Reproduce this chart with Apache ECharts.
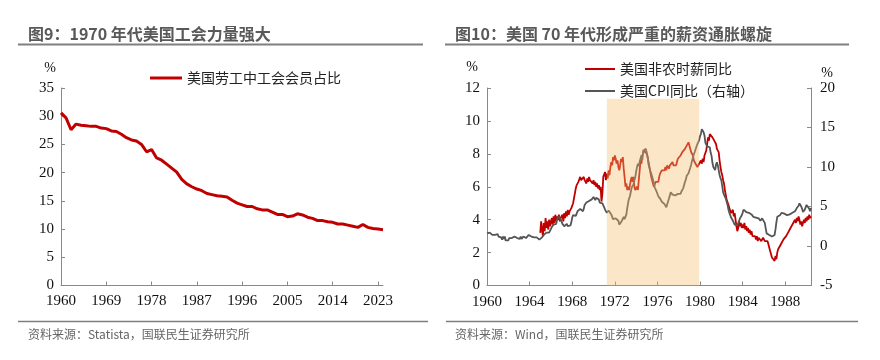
<!DOCTYPE html>
<html><head><meta charset="utf-8">
<script src="https://cdn.jsdelivr.net/npm/echarts@6.0.0/dist/echarts.min.js"></script>
<style>html,body{margin:0;padding:0;background:#fff}#c{width:880px;height:360px}</style>
</head><body><div id="c"></div>
<script>
// ---- Left chart: union membership share ----
const unionYears = [1960,1961,1962,1963,1964,1965,1966,1967,1968,1969,1970,1971,1972,1973,1974,1975,1976,1977,1978,1979,
1980,1981,1982,1983,1984,1985,1986,1987,1988,1989,1990,1991,1992,1993,1994,1995,1996,1997,1998,1999,
2000,2001,2002,2003,2004,2005,2006,2007,2008,2009,2010,2011,2012,2013,2014,2015,2016,2017,2018,2019,
2020,2021,2022,2023,2024];
const unionShare = [30.6,29.7,27.6,28.6,28.4,28.3,28.2,28.2,27.9,27.8,27.4,27.3,26.8,26.2,25.8,25.6,25.0,23.7,24.1,22.6,
22.2,21.5,20.8,20.1,18.8,18.0,17.5,17.1,16.8,16.3,16.1,15.9,15.8,15.7,15.1,14.6,14.3,14.0,14.0,13.6,
13.4,13.4,13.0,12.6,12.6,12.2,12.3,12.7,12.5,12.1,11.9,11.5,11.5,11.3,11.2,10.9,10.9,10.7,10.5,10.3,
10.8,10.3,10.1,10.0,9.9];
const unionYTicks = {min:0, max:35, interval:5};

// ---- Right chart: monthly YoY, Jan 1960 - Jun 1990 ----
const monthStart = 1960, monthEndYear = 1990, monthEndMonth = 6;
// US CPI YoY (%), Jan 1960 onward
const cpiYoY = [
1.6,1.5,1.5,1.7,1.6,1.7,1.4,1.4,1.2,1.4,1.3,1.4,
1.5,1.2,1.4,1.0,1.1,0.8,1.2,0.9,1.2,0.7,0.8,0.6,
0.7,1.0,0.9,1.2,1.0,1.1,0.9,1.2,1.1,1.2,1.0,1.1,
1.1,0.9,1.2,0.9,1.0,1.2,1.1,1.3,1.0,1.2,1.1,1.4,
1.5,1.3,1.2,1.1,1.2,1.1,1.2,0.9,1.1,0.9,1.0,0.8,
0.9,0.9,1.1,1.3,1.4,1.6,1.5,1.7,1.6,1.8,1.7,1.9,
1.9,2.4,2.3,2.7,2.6,2.5,2.8,3.4,3.3,3.7,3.5,3.4,
3.4,2.8,2.7,2.5,2.7,2.6,2.8,2.5,2.7,2.4,2.6,3.0,
3.6,3.9,3.8,3.9,3.8,4.1,4.4,4.3,4.4,4.7,4.6,4.7,
4.4,4.7,5.2,5.4,5.5,5.5,5.4,5.7,5.7,5.8,5.9,6.1,
6.2,6.1,5.8,6.1,6.0,6.0,5.9,5.5,5.7,5.6,5.4,5.2,
4.9,4.6,4.4,4.2,4.3,4.5,4.3,4.4,4.0,3.8,3.4,3.3,
3.3,3.5,3.4,3.5,3.2,2.7,2.9,2.9,3.2,3.4,3.7,3.4,
3.6,4.0,4.8,5.5,6.0,6.3,6.5,7.4,7.4,7.8,8.3,8.7,
9.4,10.0,10.4,10.1,10.7,10.9,11.5,10.9,12.1,12.1,12.2,12.3,
11.8,11.2,10.3,10.2,9.5,9.2,8.8,8.4,7.9,7.4,7.2,6.9,
6.7,6.3,6.1,6.0,5.8,5.6,5.4,5.6,5.3,5.1,4.9,4.8,
5.1,6.0,6.4,6.8,6.6,6.5,6.4,6.3,6.4,6.2,6.5,6.6,
6.8,6.4,6.6,6.9,7.0,7.3,7.7,8.1,8.4,8.9,9.1,9.2,
9.3,9.9,10.3,10.8,11.2,11.6,11.9,12.1,12.6,12.9,13.1,13.4,
13.9,14.2,14.8,14.7,14.4,14.0,13.1,12.9,12.6,12.8,12.6,12.5,
11.8,11.4,10.5,10.0,9.8,9.6,10.3,10.6,10.2,9.6,9.0,8.6,
8.3,7.6,6.8,6.5,6.4,6.0,5.8,5.2,4.6,4.2,3.9,3.6,
3.4,3.2,3.0,2.7,2.6,2.5,2.6,2.8,3.2,3.5,3.7,3.9,
4.2,4.6,4.8,4.6,4.3,4.2,4.3,4.2,4.3,4.1,4.0,3.9,
3.7,3.5,3.7,3.6,3.8,3.7,3.5,3.3,3.2,3.3,3.5,3.6,
3.4,2.9,2.2,1.6,1.5,1.6,1.4,1.5,1.6,1.2,1.1,1.0,
1.4,2.1,3.0,3.7,3.9,3.8,3.9,4.1,4.2,4.3,4.2,4.1,
4.0,3.9,3.9,4.0,3.9,4.0,4.1,4.0,4.2,4.2,4.2,4.4,
4.6,4.8,5.0,5.1,5.4,5.2,5.0,4.7,4.3,4.5,4.6,4.6,
5.2,5.3,5.2,4.7,4.4,4.8];
// US nonfarm average hourly earnings YoY (%), starts Jan 1965
const wageStart = '1965-01';
const wageYoY = [
3.2,3.9,3.4,3.0,3.8,3.3,4.1,3.5,3.9,3.4,4.0,3.6,
3.5,4.1,3.7,4.2,3.8,4.3,3.9,4.2,4.0,4.3,3.9,4.1,
4.0,4.3,3.9,4.4,4.1,4.5,4.2,4.6,4.3,4.5,4.4,4.7,
4.8,5.0,5.3,5.6,5.9,6.1,6.0,6.3,6.2,6.6,6.4,6.5,
6.3,6.6,6.4,6.5,6.2,6.5,6.3,6.6,6.4,6.3,6.5,6.2,
6.4,6.1,6.3,6.0,6.2,5.9,6.1,5.8,6.0,5.1,5.6,6.6,
6.5,6.9,6.4,6.8,6.5,7.0,6.7,7.2,7.5,7.3,7.8,7.6,
7.9,7.7,7.4,7.6,7.2,7.0,7.3,7.7,7.5,7.8,7.1,6.6,
6.0,6.2,5.8,6.0,5.8,6.1,6.4,6.6,6.3,6.6,6.0,5.8,
5.9,6.0,5.8,6.4,7.0,7.6,7.4,7.9,8.0,8.2,8.1,8.2,
8.0,7.8,7.5,7.2,6.9,6.6,6.4,6.2,6.0,6.1,6.3,6.2,
6.4,6.3,6.6,6.8,6.7,7.0,6.9,7.1,7.0,7.2,7.0,7.3,
7.2,7.1,7.3,7.4,7.2,7.5,7.3,7.4,7.2,7.3,7.5,7.7,
7.8,7.6,7.9,7.8,8.1,8.0,8.1,8.3,8.2,8.5,8.6,8.7,
8.5,8.3,8.1,8.2,7.9,7.6,7.7,7.4,7.5,7.2,7.3,7.4,
7.3,7.6,7.4,7.7,7.5,7.9,7.8,8.2,8.6,9.0,8.8,9.2,
9.1,9.3,9.0,8.9,8.8,8.9,8.6,8.3,8.4,8.1,7.6,7.2,
6.9,6.7,6.4,6.2,5.8,5.5,5.2,5.3,4.9,4.7,4.8,4.4,
4.3,4.6,4.2,4.4,4.0,3.6,3.3,3.5,3.9,3.6,3.8,3.5,
3.7,3.5,3.8,3.4,3.6,3.3,3.5,3.2,3.4,3.1,3.3,3.0,
3.1,2.9,3.0,2.8,3.0,2.7,2.9,2.8,2.9,2.7,2.8,2.9,
2.8,2.7,2.8,2.6,2.7,2.5,2.3,2.1,1.9,1.7,1.6,1.7,
1.5,1.8,1.6,2.0,2.2,2.1,2.4,2.3,2.6,2.5,2.8,2.7,
2.8,3.0,2.9,3.2,3.1,3.4,3.3,3.6,3.5,3.8,3.7,4.0,
3.8,4.1,3.9,4.2,4.0,3.7,3.9,3.6,3.8,4.0,3.8,4.1,
3.9,4.2,4.0,4.3,4.1,4.2];
const shadeFrom = '1971-04', shadeTo = '1979-12', shadeTop = 11.35;
const wageAxis = {min:0, max:12, interval:2};
const cpiAxis = {min:-5, max:20, interval:5};

const names = {
  union: '美国劳工中工会会员占比',
  wage: '美国非农时薪同比',
  cpi: '美国CPI同比（右轴）'
};

// build month categories
const months = [];
for (let y = monthStart; y <= monthEndYear; y++) {
  for (let m = 1; m <= 12; m++) {
    if (y === monthEndYear && m > monthEndMonth) break;
    months.push(y + '-' + (m < 10 ? '0' + m : m));
  }
}
const wageOffset = months.indexOf(wageStart);
const wageFull = months.map((_, i) => (i >= wageOffset && i - wageOffset < wageYoY.length) ? wageYoY[i - wageOffset] : null);

const yearTick = (idx, val) => val.slice(5) === '01' && (+val.slice(0, 4)) % 4 === 0;

const AX = '#888';
const serif = 'Liberation Serif, Times New Roman, serif';
const cjk = 'Noto Sans CJK SC';
const tickLbl = {color: '#111', fontFamily: serif, fontSize: 15};

const chart = echarts.init(document.getElementById('c'), null, {renderer: 'canvas'});
chart.setOption({
  animation: false,
  backgroundColor: '#fff',
  textStyle: {fontFamily: serif},
  grid: [
    {left: 61, top: 88, width: 322, height: 197.5},
    {left: 487, top: 88, width: 324, height: 197.5}
  ],
  xAxis: [
    {gridIndex: 0, type: 'category', data: unionYears.map(String), boundaryGap: false,
     axisLine: {lineStyle: {color: AX, width: 1}},
     axisTick: {inside: true, interval: 8, length: 4, lineStyle: {color: AX}},
     axisLabel: Object.assign({interval: 8, margin: 8}, tickLbl),
     splitLine: {show: false}},
    {gridIndex: 1, type: 'category', data: months, boundaryGap: false,
     axisLine: {lineStyle: {color: AX, width: 1}},
     axisTick: {inside: true, interval: yearTick, length: 4, lineStyle: {color: AX}},
     axisLabel: Object.assign({interval: yearTick, margin: 9, formatter: v => v.slice(0, 4)}, tickLbl),
     splitLine: {show: false}}
  ],
  yAxis: [
    Object.assign({gridIndex: 0, type: 'value',
     axisLine: {show: true, lineStyle: {color: AX}},
     axisTick: {show: true, inside: true, length: 4, lineStyle: {color: AX}},
     axisLabel: Object.assign({margin: 7}, tickLbl),
     splitLine: {show: false}}, unionYTicks),
    Object.assign({gridIndex: 1, type: 'value', position: 'left',
     axisLine: {show: true, lineStyle: {color: AX}},
     axisTick: {show: true, inside: true, length: 4, lineStyle: {color: AX}},
     axisLabel: Object.assign({margin: 7}, tickLbl),
     splitLine: {show: false}}, wageAxis),
    Object.assign({gridIndex: 1, type: 'value', position: 'right',
     axisLine: {show: true, lineStyle: {color: AX}},
     axisTick: {show: true, inside: true, length: 4, lineStyle: {color: AX}},
     axisLabel: Object.assign({margin: 9}, tickLbl),
     splitLine: {show: false}}, cpiAxis)
  ],
  legend: [
    {data: [names.union], left: 145, top: 66, icon: 'rect', itemWidth: 32, itemHeight: 3,
     textStyle: {fontFamily: cjk, fontSize: 14, color: '#222'}},
    {data: [names.wage, names.cpi], orient: 'vertical', left: 580, top: 57, icon: 'rect',
     itemWidth: 30, itemHeight: 2, itemGap: 8,
     textStyle: {fontFamily: cjk, fontSize: 14, color: '#222'}}
  ],
  series: [
    {name: names.union, type: 'line', xAxisIndex: 0, yAxisIndex: 0, data: unionShare,
     symbol: 'none', color: '#C00000', lineStyle: {width: 3, color: '#C00000'}, z: 2},
    {name: names.wage, type: 'line', xAxisIndex: 1, yAxisIndex: 1, data: wageFull,
     symbol: 'none', color: '#C00000', lineStyle: {width: 1.8, color: '#C00000'}, z: 2},
    {name: names.cpi, type: 'line', xAxisIndex: 1, yAxisIndex: 2, data: cpiYoY,
     symbol: 'none', color: '#555555', lineStyle: {width: 1.8, color: '#555555'}, z: 3},
    {type: 'line', xAxisIndex: 1, yAxisIndex: 1, data: [], z: 10, silent: true,
     markArea: {silent: true, z: 10, itemStyle: {color: 'rgba(247,190,110,0.38)'},
       data: [[{xAxis: shadeFrom, yAxis: 0}, {xAxis: shadeTo, yAxis: shadeTop}]]}}
  ],
  graphic: [
    {type: 'text', left: 28, top: 26, style: {text: '图9：1970 年代美国工会力量强大', font: 'bold 16px "Noto Sans CJK SC"', fill: '#595959'}},
    {type: 'line', shape: {x1: 18, y1: 44.5, x2: 423, y2: 44.5}, style: {stroke: '#7f7f7f', lineWidth: 2}},
    {type: 'text', left: 455, top: 26, style: {text: '图10：美国 70 年代形成严重的薪资通胀螺旋', font: 'bold 16px "Noto Sans CJK SC"', fill: '#595959'}},
    {type: 'line', shape: {x1: 445, y1: 44.5, x2: 849, y2: 44.5}, style: {stroke: '#7f7f7f', lineWidth: 2}},
    {type: 'text', x: 50, y: 68, style: {text: '%', font: '14px ' + serif, fill: '#111', align: 'center', verticalAlign: 'middle'}},
    {type: 'text', x: 472, y: 67, style: {text: '%', font: '14px ' + serif, fill: '#111', align: 'center', verticalAlign: 'middle'}},
    {type: 'text', x: 827, y: 73, style: {text: '%', font: '14px ' + serif, fill: '#111', align: 'center', verticalAlign: 'middle'}},
    {type: 'line', shape: {x1: 18, y1: 321.5, x2: 428, y2: 321.5}, style: {stroke: '#7f7f7f', lineWidth: 1.5}},
    {type: 'line', shape: {x1: 446, y1: 321.5, x2: 858, y2: 321.5}, style: {stroke: '#7f7f7f', lineWidth: 1.5}},
    {type: 'text', x: 28, y: 334, style: {text: '资料来源：Statista，国联民生证券研究所', font: '12px "Noto Sans CJK SC"', fill: '#666', verticalAlign: 'middle'}},
    {type: 'text', x: 455, y: 334, style: {text: '资料来源：Wind，国联民生证券研究所', font: '12px "Noto Sans CJK SC"', fill: '#666', verticalAlign: 'middle'}}
  ]
});
</script></body></html>
